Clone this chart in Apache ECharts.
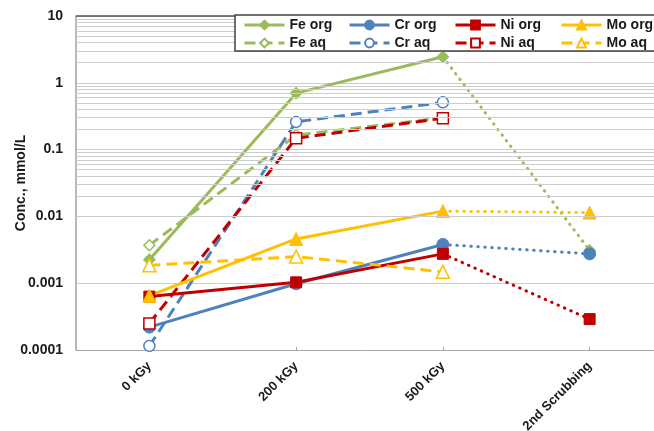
<!DOCTYPE html>
<html>
<head>
<meta charset="utf-8">
<script src="https://cdn.jsdelivr.net/npm/echarts@6/dist/echarts.min.js"></script>
<style>
html,body{margin:0;padding:0;background:#fff;}
#chart{width:654px;height:431px;}
</style>
</head>
<body>
<div id="chart"></div>
<script>
// ---- data ----
var categories = ['0 kGy', '200 kGy', '500 kGy', '2nd Scrubbing'];
var yTickLabels = ['0.0001', '0.001', '0.01', '0.1', '1', '10'];
var feOrg = [0.00225, 0.70, 2.45, 0.0031];
var feAq  = [0.0037, 0.165, 0.30, null];
var crOrg = [0.00022, 0.00098, 0.0038, 0.00275];
var crAq  = [0.000115, 0.26, 0.51, null];
var niOrg = [0.00063, 0.00103, 0.00275, 0.00029];
var niAq  = [0.00025, 0.148, 0.295, null];
var moOrg = [0.00065, 0.0046, 0.0120, 0.0114];
var moAq  = [0.00185, 0.0025, 0.00148, null];

var FONT = '"Liberation Sans", Arial, sans-serif';
var GREEN = '#9BBB59', BLUE = '#4F81BD', RED = '#C00000', GOLD = '#FFC000';

// minor log gridlines (2..9 per decade)
var minorLines = [];
for (var d = -4; d <= 0; d++) {
  for (var k = 2; k <= 9; k++) {
    minorLines.push({ yAxis: k * Math.pow(10, d) });
  }
}
minorLines.push({ yAxis: 10, lineStyle: { color: '#555555', width: 1.5 } });

function solid(name, arr, color, symbol, size) {
  return {
    name: name, type: 'line', data: arr.slice(0, 3).concat([null]),
    symbol: symbol, symbolSize: size, showAllSymbol: true,
    lineStyle: { color: color, width: 3 },
    itemStyle: { color: color, borderColor: color, borderWidth: 1 },
    z: 3
  };
}
function dashed(name, arr, color, symbol, size) {
  return {
    name: name, type: 'line', data: arr.slice(0, 3).concat([null]),
    symbol: symbol, symbolSize: size, showAllSymbol: true,
    lineStyle: { color: color, width: 3, type: [11, 6] },
    itemStyle: { color: '#ffffff', borderColor: color, borderWidth: 1.5 },
    z: 3
  };
}
function dotted(arr, color, symbol, size) {
  return {
    name: '', type: 'line',
    data: [null, null, { value: arr[2], symbol: 'none' }, arr[3]],
    symbol: symbol, symbolSize: size,
    lineStyle: { color: color, width: 3, type: [0.5, 6.5], cap: 'round' },
    itemStyle: { color: color, borderColor: color, borderWidth: 1 },
    z: 3
  };
}

var series = [
  {
    name: 'grid', type: 'line', data: [null, null, null, null], silent: true, z: 1,
    markLine: {
      silent: true, symbol: ['none', 'none'], label: { show: false },
      lineStyle: { color: '#cccccc', width: 1, type: 'solid' },
      emphasis: { disabled: true },
      animation: false,
      data: minorLines
    }
  },
  dotted(feOrg, GREEN, 'diamond', 12),
  solid('Fe org', feOrg, GREEN, 'diamond', 12),
  dashed('Fe aq', feAq, GREEN, 'diamond', 11),
  dotted(crOrg, BLUE, 'circle', 12),
  solid('Cr org', crOrg, BLUE, 'circle', 12),
  dashed('Cr aq', crAq, BLUE, 'circle', 11),
  dotted(niOrg, RED, 'rect', 11),
  solid('Ni org', niOrg, RED, 'rect', 11),
  dashed('Ni aq', niAq, RED, 'rect', 11),
  dotted(moOrg, GOLD, 'triangle', 13),
  solid('Mo org', moOrg, GOLD, 'triangle', 13),
  dashed('Mo aq', moAq, GOLD, 'triangle', 13)
];

function legendCol(x, names) {
  return {
    orient: 'vertical', left: x, top: 18, padding: 0, itemWidth: 40, itemHeight: 11, itemGap: 4,
    selectedMode: false, z: 50, zlevel: 0,
    lineStyle: { width: 3 },
    textStyle: { fontFamily: FONT, fontWeight: 'bold', fontSize: 14, color: '#1a1a1a', lineHeight: 14, padding: [0, 0, 0, 0] },
    data: names
  };
}

var chart = echarts.init(document.getElementById('chart'), null, { renderer: 'canvas' });
chart.setOption({
  animation: false,
  backgroundColor: '#ffffff',
  grid: { left: 76, top: 16, width: 587, height: 334, containLabel: false, outerBoundsMode: 'none' },
  xAxis: {
    type: 'category', data: categories, boundaryGap: true,
    axisLine: { lineStyle: { color: '#a6a6a6', width: 1 } },
    axisTick: { show: true, alignWithLabel: true, inside: true, length: 3, lineStyle: { color: '#a6a6a6' } },
    axisLabel: { rotate: 45, margin: 14, fontFamily: FONT, fontWeight: 'bold', fontSize: 13, color: '#1a1a1a' },
    splitLine: { show: false }
  },
  yAxis: {
    type: 'log', logBase: 10, min: 0.0001, max: 10,
    name: 'Conc., mmol/L', nameLocation: 'middle', nameGap: 48, nameRotate: 90, nameMoveOverlap: false,
    nameTextStyle: { fontFamily: FONT, fontWeight: 'bold', fontSize: 14, color: '#1a1a1a' },
    axisLine: { show: true, lineStyle: { color: '#a0a0a0', width: 1.5 } },
    axisTick: { show: false },
    axisLabel: {
      margin: 13, fontFamily: FONT, fontWeight: 'bold', fontSize: 14, color: '#1a1a1a',
      formatter: function (v) {
        var i = Math.round(Math.log10(v)) + 4;
        return yTickLabels[i] !== undefined ? yTickLabels[i] : '';
      }
    },
    splitLine: { show: true, lineStyle: { color: '#cccccc', width: 1 } }
  },
  legend: [
    legendCol(243, ['Fe org', 'Fe aq']),
    legendCol(348, ['Cr org', 'Cr aq']),
    legendCol(454, ['Ni org', 'Ni aq']),
    legendCol(560, ['Mo org', 'Mo aq'])
  ],
  graphic: {
    elements: [{
      type: 'rect', x: 235, y: 15, z: 40, zlevel: 0, silent: true,
      shape: { x: 0, y: 0, width: 430, height: 36 },
      style: { fill: '#ffffff', stroke: '#404040', lineWidth: 1.5 }
    }]
  },
  series: series
});
</script>
</body>
</html>
